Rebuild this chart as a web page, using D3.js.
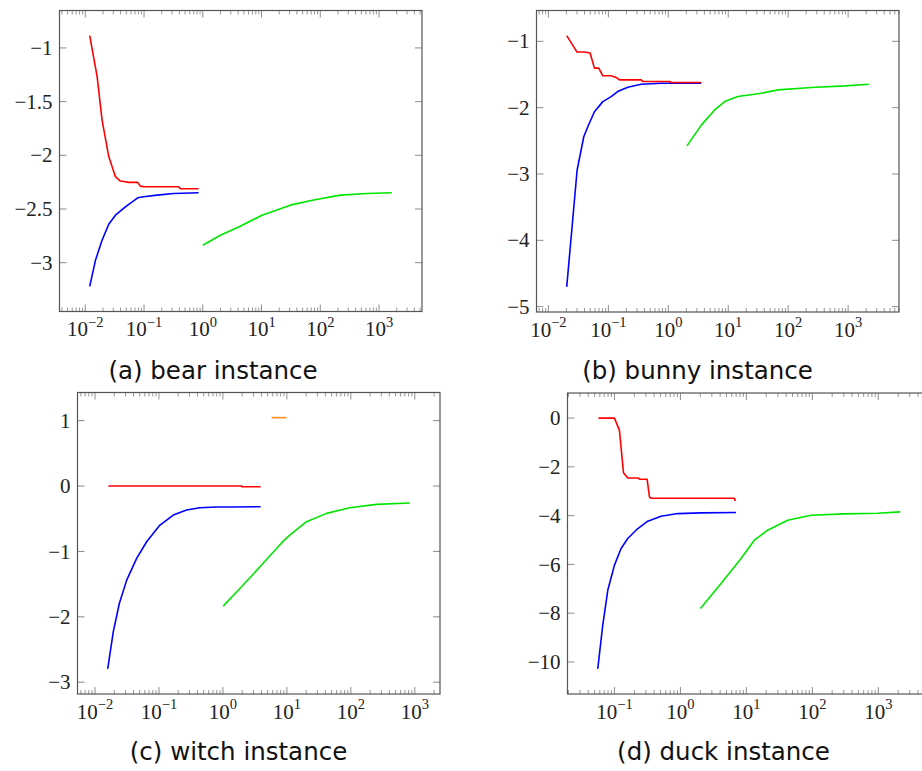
<!DOCTYPE html>
<html>
<head>
<meta charset="utf-8">
<script src="https://cdn.jsdelivr.net/npm/d3@7"></script>
<style>
  body { margin: 0; background: #fff; }
  svg { display: block; }
</style>
</head>
<body>
<script>
const width = 922, height = 771

// values, [x, y]
const bearRed    = [[0.0119,-0.885],[0.0159,-1.265],[0.0193,-1.67],[0.0251,-2.012],[0.0326,-2.199],[0.0396,-2.24],[0.0482,-2.246],[0.055,-2.252],[0.078,-2.252],[0.0867,-2.287],[0.0988,-2.293],[0.389,-2.293],[0.415,-2.312],[0.851,-2.312]]
const bearBlue   = [[0.0119,-3.221],[0.0149,-2.978],[0.0193,-2.791],[0.0251,-2.642],[0.0326,-2.558],[0.0482,-2.48],[0.078,-2.396],[0.0988,-2.386],[0.167,-2.371],[0.32,-2.355],[0.851,-2.349]]
const bearGreen  = [[1.0,-2.838],[1.99,-2.745],[4.08,-2.667],[10.2,-2.558],[30.9,-2.464],[76.9,-2.417],[219,-2.371],[621,-2.355],[1650,-2.349]]

const bunnyRed   = [[0.0202,-0.914],[0.0301,-1.162],[0.0399,-1.162],[0.0496,-1.177],[0.0586,-1.404],[0.0693,-1.404],[0.0809,-1.52],[0.1115,-1.52],[0.135,-1.545],[0.153,-1.581],[0.353,-1.581],[0.376,-1.606],[1.05,-1.606],[1.12,-1.621],[3.55,-1.621]]
const bunnyBlue  = [[0.0202,-4.702],[0.0248,-3.803],[0.0301,-2.944],[0.0389,-2.439],[0.0454,-2.288],[0.0586,-2.061],[0.0809,-1.909],[0.1115,-1.833],[0.143,-1.758],[0.211,-1.692],[0.353,-1.646],[0.762,-1.631],[3.55,-1.631]]
const bunnyGreen = [[2.05,-2.576],[3.55,-2.263],[5.93,-2.035],[8.71,-1.909],[14.5,-1.833],[35.7,-1.783],[67.7,-1.732],[244,-1.697],[880,-1.672],[2213,-1.646]]

const witchOrange = [[5.76,1.046],[9.88,1.046]]
const witchRed    = [[0.0162,0],[1.96,0],[1.96,-0.01],[3.88,-0.01]]
const witchBlue   = [[0.0158,-2.796],[0.0193,-2.23],[0.024,-1.796],[0.0313,-1.439],[0.0448,-1.107],[0.0642,-0.852],[0.1037,-0.597],[0.1675,-0.444],[0.27,-0.367],[0.437,-0.332],[0.796,-0.321],[1.45,-0.321],[3.88,-0.316]]
const witchGreen  = [[1.01,-1.837],[1.84,-1.566],[2.64,-1.403],[3.79,-1.235],[6.9,-0.954],[8.77,-0.842],[11.1,-0.75],[20.3,-0.546],[41.7,-0.418],[96.4,-0.332],[252,-0.281],[835,-0.26]]

const duckRed   = [[0.0573,0],[0.1,0],[0.119,-0.505],[0.137,-2.237],[0.159,-2.456],[0.226,-2.456],[0.245,-2.51],[0.313,-2.51],[0.339,-3.233],[0.36,-3.288],[6.58,-3.288],[6.81,-3.397]]
const duckBlue  = [[0.0558,-10.286],[0.0665,-8.486],[0.0793,-7.053],[0.1,-6.03],[0.126,-5.348],[0.159,-4.939],[0.226,-4.529],[0.32,-4.229],[0.509,-4.025],[0.912,-3.916],[2.06,-3.888],[6.97,-3.874]]
const duckGreen = [[2.01,-7.804],[4.13,-6.78],[8.3,-5.757],[13.2,-5.007],[21,-4.598],[42.3,-4.188],[95.5,-3.984],[305,-3.929],[977,-3.902],[2153,-3.847]]

const captions = ['(a) bear instance', '(b) bunny instance', '(c) witch instance', '(d) duck instance']
const xTicksAll  = [1e-2, 1e-1, 1e0, 1e1, 1e2, 1e3]
const xTicksDuck = [1e-1, 1e0, 1e1, 1e2, 1e3]
const yTicksBear  = [-3, -2.5, -2, -1.5, -1]
const yTicksBunny = [-5, -4, -3, -2, -1]
const yTicksWitch = [-3, -2, -1, 0, 1]
const yTicksDuck  = [-10, -8, -6, -4, -2, 0]

const colors = { red: '#ff0000', blue: '#0000ff', green: '#00e600', orange: '#ff8c1a' }

const panels = [
  { box: [59.5, 10.5, 362.5, 301],  cap: [213, 379],   xTicks: xTicksAll,  yTicks: yTicksBear,
    series: [[bearGreen,'green'],[bearBlue,'blue'],[bearRed,'red']] },
  { box: [536.5, 10.5, 362.5, 301.5], cap: [697.5, 379], xTicks: xTicksAll, yTicks: yTicksBunny,
    series: [[bunnyGreen,'green'],[bunnyBlue,'blue'],[bunnyRed,'red']] },
  { box: [77.5, 392.5, 362.5, 301.5], cap: [238.5, 760], xTicks: xTicksAll, yTicks: yTicksWitch,
    series: [[witchGreen,'green'],[witchBlue,'blue'],[witchRed,'red'],[witchOrange,'orange']] },
  { box: [567.5, 393, 363, 301],    cap: [723.5, 760], xTicks: xTicksDuck, yTicks: yTicksDuck,
    series: [[duckGreen,'green'],[duckBlue,'blue'],[duckRed,'red']] }
]

const svg = d3.select('body').append('svg').attr('width', width).attr('height', height)

function minus(v) { return (v < 0 ? '\u2212' : '') + Math.abs(v) }

function drawPanel(p, i) {
  const [left, top, w, h] = p.box
  const all = p.series.flatMap(s => s[0])

  // pgfplots style 10% enlargement, x in log space
  const lx = d3.extent(all, d => Math.log10(d[0]))
  const dx = (lx[1] - lx[0]) * 0.1
  const ly = d3.extent(all, d => d[1])
  const dy = (ly[1] - ly[0]) * 0.1
  const x = d3.scaleLog().domain([Math.pow(10, lx[0] - dx), Math.pow(10, lx[1] + dx)]).range([left, left + w])
  const y = d3.scaleLinear().domain([ly[0] - dy, ly[1] + dy]).range([top + h, top])

  const g = svg.append('g')

  // minor ticks on log axis
  const minor = []
  for (let k = Math.floor(lx[0] - dx); k <= Math.ceil(lx[1] + dx); k++) {
    for (let m = 2; m <= 9; m++) {
      const v = m * Math.pow(10, k)
      if (v > x.domain()[0] && v < x.domain()[1]) minor.push(v)
    }
  }
  const tickColor = '#8c8c8c'
  g.selectAll('.minorB').data(minor).enter().append('line')
    .attr('x1', d => x(d)).attr('x2', d => x(d)).attr('y1', top + h).attr('y2', top + h - 4)
    .attr('stroke', tickColor).attr('stroke-width', 0.9)
  g.selectAll('.minorT').data(minor).enter().append('line')
    .attr('x1', d => x(d)).attr('x2', d => x(d)).attr('y1', top).attr('y2', top + 4)
    .attr('stroke', tickColor).attr('stroke-width', 0.9)

  // major x ticks
  g.selectAll('.majB').data(p.xTicks).enter().append('line')
    .attr('x1', d => x(d)).attr('x2', d => x(d)).attr('y1', top + h).attr('y2', top + h - 7)
    .attr('stroke', tickColor).attr('stroke-width', 1)
  g.selectAll('.majT').data(p.xTicks).enter().append('line')
    .attr('x1', d => x(d)).attr('x2', d => x(d)).attr('y1', top).attr('y2', top + 7)
    .attr('stroke', tickColor).attr('stroke-width', 1)

  // major y ticks
  g.selectAll('.majL').data(p.yTicks).enter().append('line')
    .attr('x1', left).attr('x2', left + 7).attr('y1', d => y(d)).attr('y2', d => y(d))
    .attr('stroke', tickColor).attr('stroke-width', 1)
  g.selectAll('.majR').data(p.yTicks).enter().append('line')
    .attr('x1', left + w).attr('x2', left + w - 7).attr('y1', d => y(d)).attr('y2', d => y(d))
    .attr('stroke', tickColor).attr('stroke-width', 1)

  // x tick labels 10^k
  const xl = g.selectAll('.xl').data(p.xTicks).enter().append('text')
    .attr('x', d => x(d)).attr('y', top + h + 24.5)
    .attr('text-anchor', 'middle')
    .style('font-family', '"Liberation Serif", serif').style('font-size', '21px').style('fill', '#222')
  xl.append('tspan').text('10')
  xl.append('tspan').attr('dy', -9.5).style('font-size', '14.5px').text(d => minus(Math.round(Math.log10(d))))

  // y tick labels
  g.selectAll('.yl').data(p.yTicks).enter().append('text')
    .attr('x', left - 7).attr('y', d => y(d)).attr('dy', '0.34em')
    .attr('text-anchor', 'end')
    .style('font-family', '"Liberation Serif", serif').style('font-size', '21px').style('fill', '#222')
    .text(d => minus(d))

  // lines
  const line = d3.line().x(d => x(d[0])).y(d => y(d[1]))
  p.series.forEach(([data, c]) => {
    g.append('path').datum(data)
      .attr('d', line)
      .attr('fill', 'none')
      .attr('stroke', colors[c])
      .attr('stroke-width', 1.6)
      .attr('stroke-linejoin', 'round')
  })

  // frame
  g.append('rect').attr('x', left).attr('y', top).attr('width', w).attr('height', h)
    .attr('fill', 'none').attr('stroke', '#555').attr('stroke-width', 1.2)

  // caption
  g.append('text').attr('x', p.cap[0]).attr('y', p.cap[1])
    .attr('text-anchor', 'middle')
    .style('font-family', '"DejaVu Sans", sans-serif').style('font-size', '24.5px').style('fill', '#111')
    .text(captions[i])
}

panels.forEach(drawPanel)
</script>
</body>
</html>
